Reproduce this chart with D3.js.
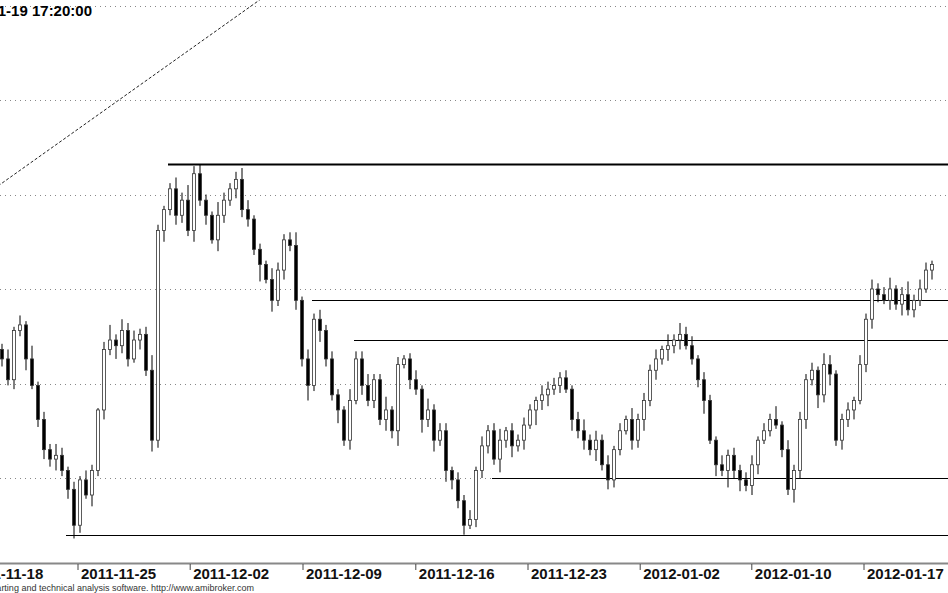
<!DOCTYPE html>
<html><head><meta charset="utf-8">
<script src="https://cdn.jsdelivr.net/npm/d3@7"></script>
<style>body{margin:0;background:#fff}</style>
</head><body>
<script>
// closing prices, one candle per bar, open = previous close
var closes = [4063,4052,4078,4081,4063,4049,4031,4015,4010,4012,4004,3994,3975,3999,3991,4004,4036,4068,4073,4070,
  4078,4063,4073,4076,4057,4020,4131,4142,4153,4139,4147,4131,4161,4147,4139,4126,4139,4147,4153,4158,
  4142,4137,4121,4113,4105,4094,4110,4126,4123,4094,4063,4049,4084,4078,4063,4044,4036,4020,4041,4063,
  4049,4041,4052,4031,4036,4025,4060,4063,4052,4047,4031,4036,4020,4025,4004,3999,3988,3975,3978,4004,
  4017,4025,4010,4020,4025,4017,4020,4028,4036,4041,4044,4047,4049,4053,4047,4031,4025,4020,4015,4020,
  4007,3999,4015,4025,4031,4020,4031,4041,4057,4063,4068,4070,4073,4076,4070,4063,4052,4041,4020,4007,
  4004,4012,4004,3999,3996,4007,4020,4025,4031,4028,4015,3994,4004,4031,4052,4057,4044,4060,4055,4020,
  4031,4036,4041,4060,4084,4100,4097,4094,4100,4092,4097,4089,4094,4100,4110,4113];
// hand-read wick lengths above / below body
var wickUp = "3525272436424253148364534832364845327434652326434725353432644633724235263442435253462434325443424635352426343526364524325343452437253434265234253534624735425324352";
var wickDn = "4353624546357426353744253646354363526435443926353548364373525343648253746365452444374635285634264536354325463536452347263946355232437453746354524542536343254343";

var tickIdx = [-5.8, 13, 31.7, 50.5, 69.3, 88, 106.7, 125.3, 144];
var tickLabels = ["2011-11-18","2011-11-25","2011-12-02","2011-12-09","2011-12-16","2011-12-23","2012-01-02","2012-01-10","2012-01-17"];
var gridPrices = [4000, 4050, 4100, 4150, 4200, 4250];
// support / resistance lines: [start index, price]
var levels = [[28, 4166], [52, 4094], [59, 4073], [82, 4000], [11, 3970]];
var trendLine = [[-1, 4153], [43.3, 4253]];

var W = 948, H = 593;
var svg = d3.select("body").append("svg").attr("width", W).attr("height", H)
  .style("font-family", "Arial, 'Liberation Sans', sans-serif");

var x = d3.scaleLinear().domain([0, 1]).range([0, 6]);
var y = d3.scaleLinear().domain([4000, 4250]).range([478, 5.5]);

// dotted grid
svg.selectAll(".grid").data(gridPrices).enter().append("line")
  .attr("x1", 0).attr("x2", W)
  .attr("y1", function(d){return Math.round(y(d))+0.5;}).attr("y2", function(d){return Math.round(y(d))+0.5;})
  .attr("stroke", "#888").attr("stroke-dasharray", "1,4");

// title
svg.append("text").attr("x", 92).attr("y", 16).attr("text-anchor", "end")
  .attr("font-weight", "bold").attr("font-size", 15).text("2012-01-19 17:20:00");

// dashed trend line
svg.append("line")
  .attr("x1", x(trendLine[0][0])).attr("y1", y(trendLine[0][1]))
  .attr("x2", x(trendLine[1][0])).attr("y2", y(trendLine[1][1]))
  .attr("stroke", "#222").attr("stroke-dasharray", "3,2");

// level lines
svg.selectAll(".lvl").data(levels).enter().append("line")
  .attr("x1", function(d){return x(d[0]);}).attr("x2", W)
  .attr("y1", function(d){return Math.round(y(d[1]))+0.5;}).attr("y2", function(d){return Math.round(y(d[1]))+0.5;})
  .attr("stroke", "#000").attr("stroke-width", function(d,i){return i==0 ? 2 : 1;});

// candles
var bars = closes.map(function(c, i){
  var o = i ? closes[i-1] : c + 5;
  var up = +wickUp[i] || 2, dn = +wickDn[i] || 2;
  return {i:i, o:o, c:c, h:Math.max(o,c)+up, l:Math.min(o,c)-dn};
});
var g = svg.append("g");
g.selectAll(".wick").data(bars).enter().append("line")
  .attr("x1", function(d){return x(d.i)+2;}).attr("x2", function(d){return x(d.i)+2;})
  .attr("y1", function(d){return y(d.h);}).attr("y2", function(d){return y(d.l);})
  .attr("stroke", "#000").attr("stroke-width", 1);
g.selectAll(".body").data(bars).enter().append("rect")
  .attr("x", function(d){return x(d.i)+0.5;}).attr("width", 3)
  .attr("y", function(d){return y(Math.max(d.o,d.c));})
  .attr("height", function(d){return Math.max(1, Math.abs(y(d.o)-y(d.c)));})
  .attr("fill", function(d){return d.c >= d.o ? "#fff" : "#000";})
  .attr("stroke", "#333").attr("stroke-width", 0.8);

// x axis
svg.append("line").attr("x1", 0).attr("x2", W).attr("y1", 563.5).attr("y2", 563.5).attr("stroke", "#888").attr("stroke-width", 2);
svg.selectAll(".tk").data(tickIdx).enter().append("line")
  .attr("x1", function(d){return x(d);}).attr("x2", function(d){return x(d);})
  .attr("y1", 564).attr("y2", 570).attr("stroke", "#444");
svg.selectAll(".tl").data(tickIdx).enter().append("text")
  .attr("x", function(d){return x(d)+3;}).attr("y", 579)
  .attr("font-weight", "bold").attr("font-size", 15).attr("fill", "#111")
  .text(function(d,i){return tickLabels[i];});

svg.append("text").attr("x", 254).attr("y", 591).attr("text-anchor", "end")
  .attr("font-size", 9).attr("fill", "#333")
  .text("AmiBroker - charting and technical analysis software. http://www.amibroker.com");
</script>
</body></html>
